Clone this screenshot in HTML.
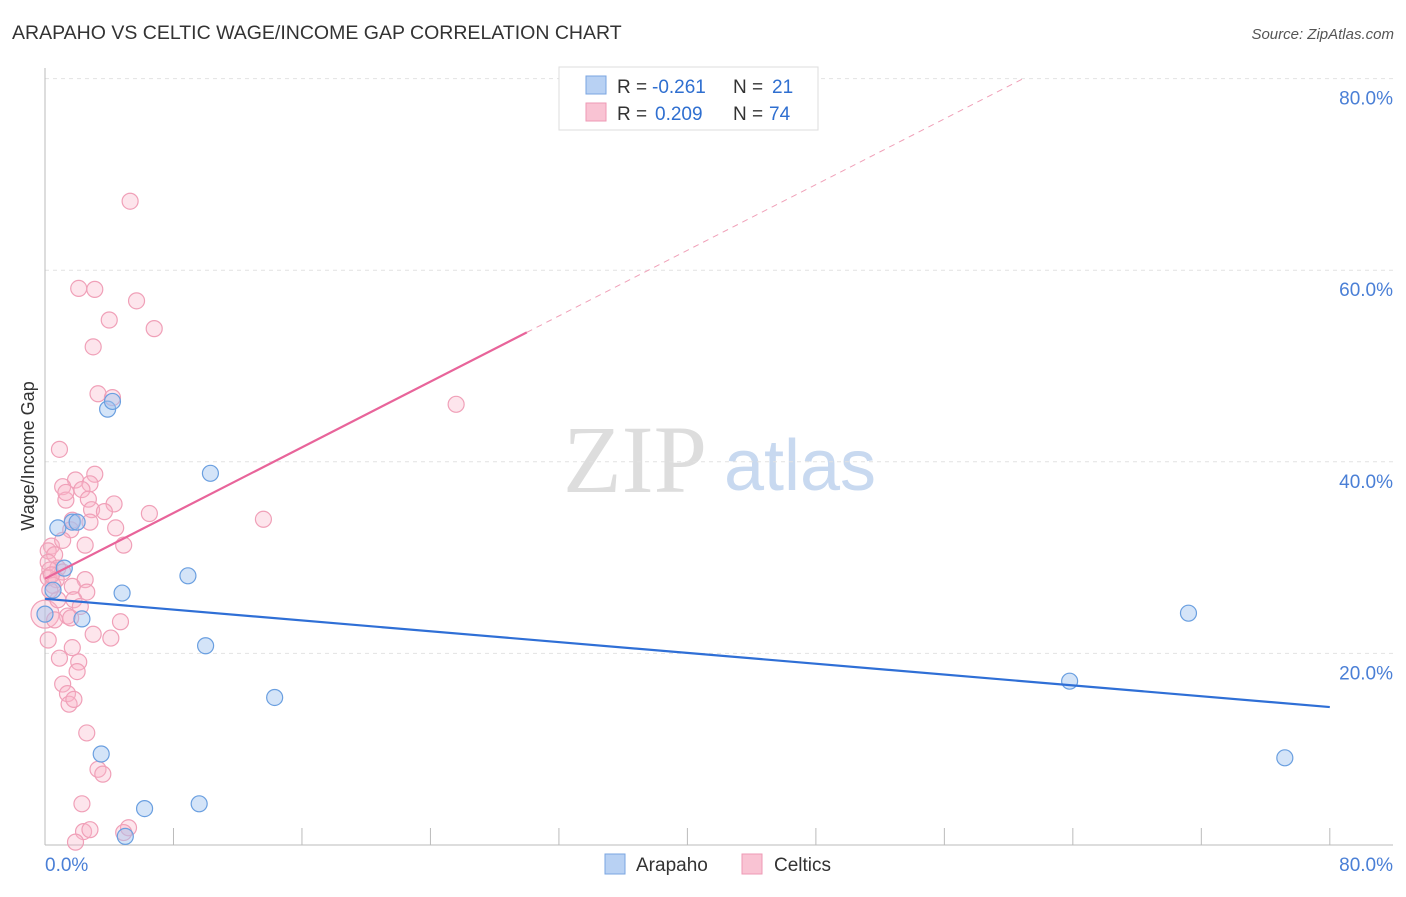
<!DOCTYPE html>
<html><head><meta charset="utf-8"><style>
body{margin:0;background:#fff;font-family:"Liberation Sans",sans-serif}
</style></head><body>
<svg id="c" width="1406" height="892" xmlns="http://www.w3.org/2000/svg" style="font-family:'Liberation Sans',sans-serif">
<text x="12" y="39" font-size="19.5" fill="#333">ARAPAHO VS CELTIC WAGE/INCOME GAP CORRELATION CHART</text>
<text x="1394" y="39" font-size="15" fill="#555" text-anchor="end" font-style="italic">Source: ZipAtlas.com</text>
<text x="635" y="492" font-size="96" fill="#ddd" font-family="Liberation Serif" text-anchor="middle">ZIP</text>
<text x="800" y="490" font-size="72" fill="#c8d9f0" text-anchor="middle">atlas</text>
<text transform="translate(34,456) rotate(-90)" font-size="18" fill="#333" text-anchor="middle">Wage/Income Gap</text>
<g id="grid"></g><g id="marks"></g><g id="lines"></g>
<g>
<rect x="559" y="67" width="259" height="63" fill="#fff" stroke="#ddd"/>
<rect x="586" y="76" width="20" height="18" fill="#b8d1f3" stroke="#7aa5e0"/>
<rect x="586" y="103" width="20" height="18" fill="#f9c3d3" stroke="#ee9ab4"/>
<text x="617" y="93" font-size="19" fill="#333">R =</text>
<text x="652" y="93" font-size="19" fill="#2f6fd0">-0.261</text>
<text x="733" y="93" font-size="19" fill="#333">N =</text>
<text x="772" y="93" font-size="19" fill="#2f6fd0">21</text>
<text x="617" y="120" font-size="19" fill="#333">R =</text>
<text x="655" y="120" font-size="19" fill="#2f6fd0">0.209</text>
<text x="733" y="120" font-size="19" fill="#333">N =</text>
<text x="769" y="120" font-size="19" fill="#2f6fd0">74</text>
</g>
<g>
<rect x="605" y="854" width="20" height="20" fill="#b8d1f3" stroke="#7aa5e0"/>
<text x="636" y="871" font-size="19" fill="#333">Arapaho</text>
<rect x="742" y="854" width="20" height="20" fill="#f9c3d3" stroke="#ee9ab4"/>
<text x="774" y="871" font-size="19" fill="#333">Celtics</text>
</g>
</svg>
<script>
const yTicks=[20,40,60,80];
const yTickLabels=["20.0%","40.0%","60.0%","80.0%"];
const xLabels=["0.0%","80.0%"];
const arapahoX=[0.8,1.7,2.0,1.2,0.5,2.3,3.9,4.2,10.3,8.9,4.8,10.0,14.3,3.5,6.2,9.6,5.0,63.8,71.2,77.2,0.0];
const arapahoY=[33.1,33.7,33.7,28.9,26.6,23.6,45.5,46.3,38.8,28.1,26.3,20.8,15.4,9.5,3.8,4.3,0.9,17.1,24.2,9.1,24.1];
const celticsX=[5.3,2.1,3.1,5.7,4.0,6.8,3.0,3.3,4.2,25.6,0.9,3.1,1.9,1.1,2.8,2.3,1.3,2.7,4.3,2.9,6.5,13.6,1.7,4.4,4.9,0.4,0.2,0.6,0.2,0.8,0.3,1.1,0.2,0.7,2.5,1.7,2.6,1.8,1.4,1.6,4.7,3.0,4.1,1.7,0.9,2.1,2.0,1.1,1.4,1.5,1.8,2.6,3.3,3.6,2.3,2.4,2.8,5.2,4.9,1.9,0.0,0.6,0.5,1.6,1.3,2.8,0.8,0.3,1.1,2.2,0.2,2.5,0.4,3.7];
const celticsY=[67.2,58.1,58.0,56.8,54.8,53.9,52.0,47.1,46.7,46.0,41.3,38.7,38.1,37.4,37.7,37.1,36.0,36.1,35.6,35.0,34.6,34.0,33.9,33.1,31.3,31.2,30.7,30.3,29.5,28.9,28.7,28.5,27.9,27.7,27.7,27.0,26.4,25.6,23.9,23.7,23.3,22.0,21.6,20.6,19.5,19.1,18.1,16.8,15.8,14.7,15.2,11.7,7.9,7.4,4.3,1.4,1.6,1.8,1.3,0.3,24.1,23.5,27.1,32.9,36.8,33.7,25.6,26.6,31.8,24.9,21.4,31.3,28.2,34.8];
const arapahoTrend=[25.7,14.4];
const celticsTrend=[27.8,0.857];
const X=v=>45+v*16.06, Y=v=>845-v*9.58;
const NS="http://www.w3.org/2000/svg";
function mk(t,a,p){const e=document.createElementNS(NS,t);for(const k in a)e.setAttribute(k,a[k]);p.appendChild(e);return e;}
const g=document.getElementById('grid');
yTicks.forEach((t,i)=>{
 const l=mk('line',{x1:45,x2:1393,y1:Y(t),y2:Y(t),stroke:'#e2e2e2','stroke-dasharray':'4,4'},g);
 
 
 const tx=mk('text',{x:1393,y:Y(t)+26,'font-size':19,fill:'#4a7fd6','text-anchor':'end'},g);tx.textContent=yTickLabels[i];
 
 
});
const ax=mk('line',{x1:45,x2:1393,y1:845,y2:845,stroke:'#bbb'},g);


const ay=mk('line',{x1:45,x2:45,y1:68,y2:845,stroke:'#bbb'},g);


for(let i=0;i<=10;i++){const t=mk('line',{x1:X(i*8),x2:X(i*8),y1:828,y2:845,stroke:'#bbb'},g);
 
 }
const x0=mk('text',{x:45,y:871,'font-size':19,fill:'#4a7fd6'},g);x0.textContent=xLabels[0];


const x1=mk('text',{x:1393,y:871,'font-size':19,fill:'#4a7fd6','text-anchor':'end'},g);x1.textContent=xLabels[1];


const m=document.getElementById('marks');
celticsX.forEach((v,i)=>{const c=mk('circle',{cx:X(v),cy:Y(celticsY[i]),r:(v===0?14:8),fill:'rgba(248,180,200,0.35)',stroke:'#f0a0b8','stroke-width':1.2},m);
 
 });
arapahoX.forEach((v,i)=>{const c=mk('circle',{cx:X(v),cy:Y(arapahoY[i]),r:8,fill:'rgba(160,195,240,0.45)',stroke:'#6a9fe0','stroke-width':1.2},m);
 
 });
const L=document.getElementById('lines');
const b=mk('line',{x1:X(0),y1:Y(arapahoTrend[0]),x2:X(80),y2:Y(arapahoTrend[1]),stroke:'#2f6fd6','stroke-width':2.2},L);


const pe=30, pd=(80-celticsTrend[0])/celticsTrend[1];
const p=mk('line',{x1:X(0),y1:Y(celticsTrend[0]),x2:X(pe),y2:Y(celticsTrend[0]+celticsTrend[1]*pe),stroke:'#e8649a','stroke-width':2.2},L);


const pdl=mk('line',{x1:X(pe),y1:Y(celticsTrend[0]+celticsTrend[1]*pe),x2:X(pd),y2:Y(80),stroke:'#f0a0b8','stroke-width':1,'stroke-dasharray':'6,5'},L);


</script>
</body></html>
